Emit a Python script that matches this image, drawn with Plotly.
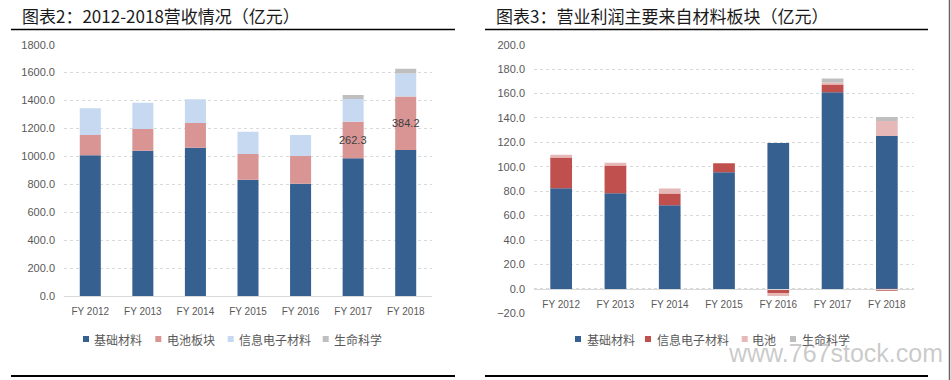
import plotly.graph_objects as go

# ---------------- data ----------------
years = ["FY 2012", "FY 2013", "FY 2014", "FY 2015", "FY 2016", "FY 2017", "FY 2018"]

# Chart 2: revenue (亿元)
rev_names = ["基础材料", "电池板块", "信息电子材料", "生命科学"]
rev_basic = [1009, 1040, 1062, 833, 804, 986, 1045]
rev_battery = [144, 156, 177, 184, 198, 262.3, 384.2]
rev_electronic = [191, 188, 171, 160, 151, 162, 165]
rev_life = [0, 0, 0, 0, 0, 29, 34]
rev_labelled = ["FY 2017", "FY 2018"]

# Chart 3: operating profit (亿元)
prof_names = ["基础材料", "信息电子材料", "电池", "生命科学"]
prof_basic = [82.4, 78.3, 68.5, 95.6, 119.4, 161.1, 125.2]
prof_electronic = [25.3, 22.8, 9.6, 7.2, -3.3, 6.3, -1.5]
prof_battery = [2.2, 2.2, 4.1, 0, -2.5, 1.7, 12.3]
prof_life = [0, 0, 0, 0, 0, 3.3, 3.3]

rev_colors = ["#36608f", "#d99594", "#c6d9f1", "#bfbfbf"]
prof_colors = ["#36608f", "#c0504d", "#e6b9b8", "#bfbfbf"]

# ---------------- layout helpers ----------------
W, H = 951, 380
def fx(p):
    return p / W
def fy(p):
    return 1 - p / H

LATIN = "Liberation Sans, Arial, sans-serif"
TICK_FONT = dict(family=LATIN, size=11, color="#595959")
XTICK_FONT = dict(family=LATIN, size=10, color="#595959")
CJK = "Noto Sans CJK SC, Noto Sans, sans-serif"

fig = go.Figure()

rev_series = [rev_basic, rev_battery, rev_electronic, rev_life]
for name, vals, col in zip(rev_names, rev_series, rev_colors):
    fig.add_trace(go.Bar(x=years, y=vals, name=name, marker_color=col,
                         marker_line_width=0, width=0.4, xaxis="x", yaxis="y",
                         showlegend=False))

prof_series = [prof_basic, prof_electronic, prof_battery, prof_life]
for name, vals, col in zip(prof_names, prof_series, prof_colors):
    fig.add_trace(go.Bar(x=years, y=vals, name=name, marker_color=col,
                         marker_line_width=0, width=0.4, xaxis="x2", yaxis="y2",
                         showlegend=False))

# domains
ldom_x = [fx(64), fx(432)]
ldom_y = [fy(296), fy(44.7)]
rdom_x = [fx(534), fx(914)]
rdom_y = [fy(313.3), fy(44.7)]
r_range = [-20, 200]
r_zero = rdom_y[0] + (rdom_y[1] - rdom_y[0]) * (0 - r_range[0]) / (r_range[1] - r_range[0])

grid = dict(showgrid=True, gridcolor="#d9d9d9", gridwidth=1, griddash="3px,3px")

fig.update_layout(
    width=W, height=H,
    margin=dict(l=0, r=0, t=0, b=0, autoexpand=False),
    paper_bgcolor="white", plot_bgcolor="white",
    barmode="relative", bargap=0.6,
    showlegend=False,
    xaxis=dict(domain=ldom_x, anchor="y", showgrid=False, showline=True,
               linecolor="#d9d9d9", linewidth=1, ticks="", tickfont=XTICK_FONT,
               ticklabelstandoff=6, automargin=False),
    yaxis=dict(domain=ldom_y, anchor="x", range=[0, 1800], dtick=200,
               tickformat=".1f", tickfont=TICK_FONT, zeroline=False,
               ticks="", ticklabelstandoff=8, automargin=False, **grid),
    xaxis2=dict(domain=rdom_x, anchor="free", position=r_zero, showgrid=False,
                showline=True, linecolor="#d9d9d9", linewidth=1, ticks="",
                tickfont=XTICK_FONT, ticklabelstandoff=6, automargin=False),
    yaxis2=dict(domain=rdom_y, anchor="x2", range=r_range, dtick=20,
                tickformat=".1f", tickfont=TICK_FONT, zeroline=False,
                ticks="", ticklabelstandoff=8, automargin=False, **grid),
)

annotations = []
shapes = []

# titles
annotations.append(dict(text="图表2：2012-2018营收情况（亿元）", x=fx(20), y=fy(15),
                        xref="paper", yref="paper", xanchor="left", yanchor="middle",
                        showarrow=False, font=dict(family=CJK, size=17, color="#1a1a1a")))
annotations.append(dict(text="图表3：营业利润主要来自材料板块（亿元）", x=fx(494), y=fy(15),
                        xref="paper", yref="paper", xanchor="left", yanchor="middle",
                        showarrow=False, font=dict(family=CJK, size=17, color="#1a1a1a")))

# data labels on battery segment
for yr in rev_labelled:
    i = years.index(yr)
    annotations.append(dict(text=f"{rev_battery[i]:.1f}", x=yr,
                            y=rev_basic[i] + rev_battery[i] / 2, xref="x", yref="y",
                            showarrow=False,
                            font=dict(family=LATIN, size=11, color="#404040")))

# legends
def legend(names, colors, sq_x, txt_x, yc):
    for n, c, sx, tx in zip(names, colors, sq_x, txt_x):
        shapes.append(dict(type="rect", xref="paper", yref="paper",
                           x0=fx(sx), x1=fx(sx + 6), y0=fy(yc + 3), y1=fy(yc - 3),
                           fillcolor=c, line_width=0))
        annotations.append(dict(text=n, x=fx(tx), y=fy(yc), xref="paper", yref="paper",
                                xanchor="left", yanchor="middle", showarrow=False,
                                font=dict(family=CJK, size=12, color="#595959")))

legend(rev_names, rev_colors, [83, 155.3, 227.7, 322.7], [92, 164.5, 236.5, 332], 339)
legend(prof_names, prof_colors, [575, 645, 741.7, 790], [584.5, 654.5, 750, 799.5], 339)

# watermark
annotations.append(dict(text="www.767stock.com", x=fx(726), y=fy(353), xref="paper",
                        yref="paper", xanchor="left", yanchor="middle", showarrow=False,
                        font=dict(family=LATIN, size=25, color="rgba(150,150,150,0.5)")))

# frame lines
for x0, x1 in [(11, 455), (485, 928)]:
    shapes.append(dict(type="line", xref="paper", yref="paper", x0=fx(x0), x1=fx(x1),
                       y0=fy(29.5), y1=fy(29.5), line=dict(color="#000000", width=1.5)))
    shapes.append(dict(type="line", xref="paper", yref="paper", x0=fx(x0), x1=fx(x1),
                       y0=fy(376), y1=fy(376), line=dict(color="#000000", width=2)))
shapes.append(dict(type="line", xref="paper", yref="paper", x0=fx(949.5), x1=fx(949.5),
                   y0=0, y1=1, line=dict(color="#666666", width=1.5)))

fig.update_layout(annotations=annotations, shapes=shapes)

fig.write_html("out.html", config={"displayModeBar": False},
               post_script="document.body.style.margin='0';"
                           "document.body.style.overflow='hidden';")
